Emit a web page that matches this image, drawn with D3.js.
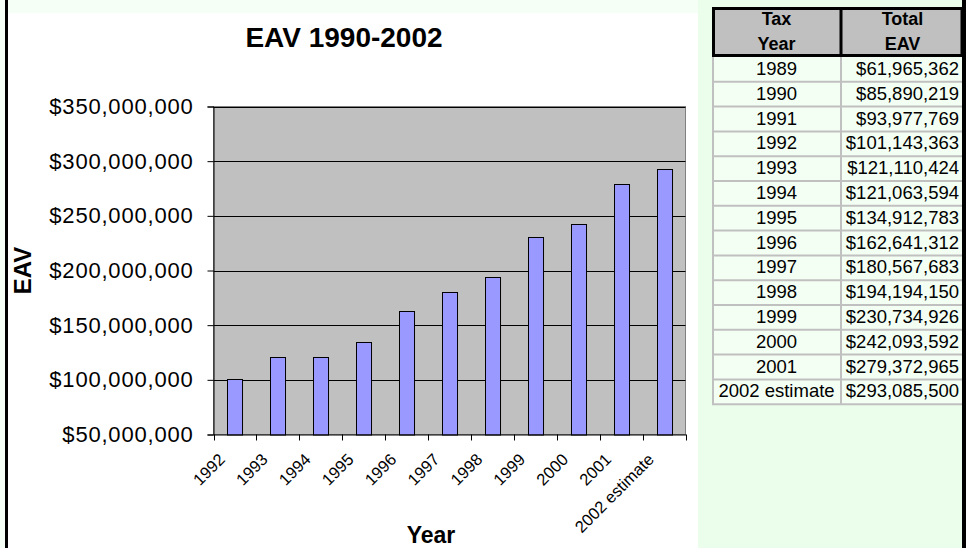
<!DOCTYPE html>
<html>
<head>
<meta charset="utf-8">
<script src="https://cdn.jsdelivr.net/npm/d3@7"></script>
<style>
  html, body { margin: 0; padding: 0; background: #ffffff; }
  svg { display: block; font-family: "Liberation Sans", Arial, sans-serif; }
</style>
</head>
<body>
<svg id="chart" width="966" height="548"></svg>
<script>
// ---- data ----
const categories = ["1992", "1993", "1994", "1995", "1996", "1997", "1998", "1999", "2000", "2001", "2002 estimate"];
const eavValues = [101143363, 121110424, 121063594, 134912783, 162641312, 180567683, 194194150, 230734926, 242093592, 279372965, 293085500];
const yTickValues = [50000000, 100000000, 150000000, 200000000, 250000000, 300000000, 350000000];
const tableYears = ["1989", "1990", "1991", "1992", "1993", "1994", "1995", "1996", "1997", "1998", "1999", "2000", "2001", "2002 estimate"];
const tableValues = [61965362, 85890219, 93977769, 101143363, 121110424, 121063594, 134912783, 162641312, 180567683, 194194150, 230734926, 242093592, 279372965, 293085500];
const tableHeaders = [["Tax", "Year"], ["Total", "EAV"]];
const chartTitle = "EAV 1990-2002";
const xTitle = "Year";
const yTitle = "EAV";

const svg = d3.select("#chart");
const money = d3.format("$,");

// ---- backgrounds ----
svg.append("rect").attr("x", 0).attr("y", 0).attr("width", 966).attr("height", 548).attr("fill", "#f6fff6");
svg.append("rect").attr("x", 698).attr("y", 0).attr("width", 268).attr("height", 548).attr("fill", "#ebfdeb");
svg.append("rect").attr("x", 8).attr("y", 13).attr("width", 690).attr("height", 535).attr("fill", "#ffffff");
svg.append("rect").attr("x", 5).attr("y", 0).attr("width", 3).attr("height", 548).attr("fill", "#000");
svg.append("rect").attr("x", 962).attr("y", 0).attr("width", 4).attr("height", 548).attr("fill", "#000");

// ---- chart ----
const plot = { left: 213.5, right: 685.5, top: 106.5, bottom: 434.5 };
const x = d3.scaleBand().domain(categories).range([plot.left, plot.right])
  .paddingInner(0.65).paddingOuter(0.325);
const y = d3.scaleLinear().domain([50000000, 350000000]).range([plot.bottom, plot.top]);

svg.append("rect")
  .attr("x", plot.left).attr("y", plot.top)
  .attr("width", plot.right - plot.left).attr("height", plot.bottom - plot.top)
  .attr("fill", "#c0c0c0").attr("stroke", "#808080").attr("stroke-width", 1);

// gridlines
svg.append("g").selectAll("line").data(yTickValues.slice(1)).join("line")
  .attr("x1", plot.left).attr("x2", plot.right)
  .attr("y1", d => Math.round(y(d)) + 0.5).attr("y2", d => Math.round(y(d)) + 0.5)
  .attr("stroke", "#000").attr("stroke-width", 1);

// bars
svg.append("g").selectAll("rect").data(eavValues).join("rect")
  .attr("x", (d, i) => Math.round(x(categories[i])) + 0.5)
  .attr("y", d => Math.round(y(d)) + 0.5)
  .attr("width", x.bandwidth())
  .attr("height", d => y(50000000) - Math.round(y(d)))
  .attr("fill", "#9999ff").attr("stroke", "#000").attr("stroke-width", 1);

// y axis
const yAxis = svg.append("g").attr("transform", `translate(${plot.left},0)`)
  .call(d3.axisLeft(y).tickValues(yTickValues).tickFormat(money).tickSize(6).tickPadding(14));
yAxis.select(".domain").attr("stroke", "#000");
yAxis.selectAll(".tick line").attr("stroke", "#000");
yAxis.selectAll("text").attr("font-size", 22).attr("letter-spacing", "0.8px")
  .attr("fill", "#000").attr("font-family", "Liberation Sans, Arial, sans-serif");

// x axis (labels at band centres, tick marks at category boundaries)
const xAxis = svg.append("g").attr("transform", `translate(0,${plot.bottom})`)
  .call(d3.axisBottom(x).tickSize(0).tickPadding(0));
xAxis.select(".domain").attr("stroke", "#000");
xAxis.selectAll("text")
  .attr("y", null).attr("dy", null)
  .attr("text-anchor", "end")
  .attr("transform", "translate(-9,26) rotate(-45)")
  .attr("font-size", 16.5).attr("fill", "#000")
  .attr("font-family", "Liberation Sans, Arial, sans-serif");
const boundaries = categories.map(c => x(c) - x.step() * x.paddingOuter()).concat([plot.right]);
svg.append("g").selectAll("line").data(boundaries).join("line")
  .attr("x1", d => Math.round(d) + 0.5).attr("x2", d => Math.round(d) + 0.5)
  .attr("y1", plot.bottom).attr("y2", plot.bottom + 6)
  .attr("stroke", "#000");

// titles
svg.append("text").attr("x", 344).attr("y", 47).attr("text-anchor", "middle")
  .attr("font-size", 28).attr("font-weight", "bold").text(chartTitle);
svg.append("text").attr("x", 431).attr("y", 543).attr("text-anchor", "middle")
  .attr("font-size", 23).attr("font-weight", "bold").text(xTitle);
svg.append("text").attr("transform", `translate(31,${(plot.top + plot.bottom) / 2}) rotate(-90)`)
  .attr("text-anchor", "middle")
  .attr("font-size", 24).attr("font-weight", "bold").text(yTitle);

// ---- table ----
const tbl = { left: 712, mid: 841, right: 962, headTop: 7, headBottom: 57, rowH: 24.8 };
const rowScale = d3.scaleBand().domain(tableYears)
  .range([tbl.headBottom, tbl.headBottom + tbl.rowH * tableYears.length]);
const tg = svg.append("g");
tg.append("rect").attr("x", tbl.left).attr("y", tbl.headBottom)
  .attr("width", tbl.right - tbl.left).attr("height", tbl.rowH * tableYears.length)
  .attr("fill", "#f4fff4");
tg.selectAll("line.row").data(tableYears).join("line").attr("class", "row")
  .attr("x1", tbl.left).attr("x2", tbl.right)
  .attr("y1", d => rowScale(d) + rowScale.bandwidth()).attr("y2", d => rowScale(d) + rowScale.bandwidth())
  .attr("stroke", "#c0c0c0").attr("stroke-width", 2);
[tbl.left + 1, tbl.mid].forEach(xx => {
  tg.append("line").attr("x1", xx).attr("x2", xx)
    .attr("y1", tbl.headBottom).attr("y2", tbl.headBottom + tbl.rowH * tableYears.length)
    .attr("stroke", "#c0c0c0").attr("stroke-width", 2);
});
// header
tg.append("rect").attr("x", tbl.left + 1.5).attr("y", tbl.headTop + 1.5)
  .attr("width", tbl.right - tbl.left - 1.5).attr("height", tbl.headBottom - tbl.headTop - 3)
  .attr("fill", "#c0c0c0").attr("stroke", "#000").attr("stroke-width", 3);
tg.append("line").attr("x1", tbl.mid).attr("x2", tbl.mid)
  .attr("y1", tbl.headTop).attr("y2", tbl.headBottom).attr("stroke", "#000").attr("stroke-width", 3);
const colCenters = [(tbl.left + tbl.mid) / 2, (tbl.mid + tbl.right) / 2 + 1];
tableHeaders.forEach((lines, ci) => {
  lines.forEach((t, li) => {
    tg.append("text").attr("x", colCenters[ci]).attr("y", 25 + li * 25)
      .attr("text-anchor", "middle").attr("font-size", 18).attr("font-weight", "bold").text(t);
  });
});
tg.selectAll("text.yr").data(tableYears).join("text").attr("class", "yr")
  .attr("x", colCenters[0]).attr("y", d => rowScale(d) + 18)
  .attr("text-anchor", "middle").attr("font-size", 18.5).text(d => d);
tg.selectAll("text.val").data(tableValues).join("text").attr("class", "val")
  .attr("x", 959).attr("y", (d, i) => rowScale(tableYears[i]) + 18)
  .attr("text-anchor", "end").attr("font-size", 18.5).text(d => money(d));
</script>
</body>
</html>
